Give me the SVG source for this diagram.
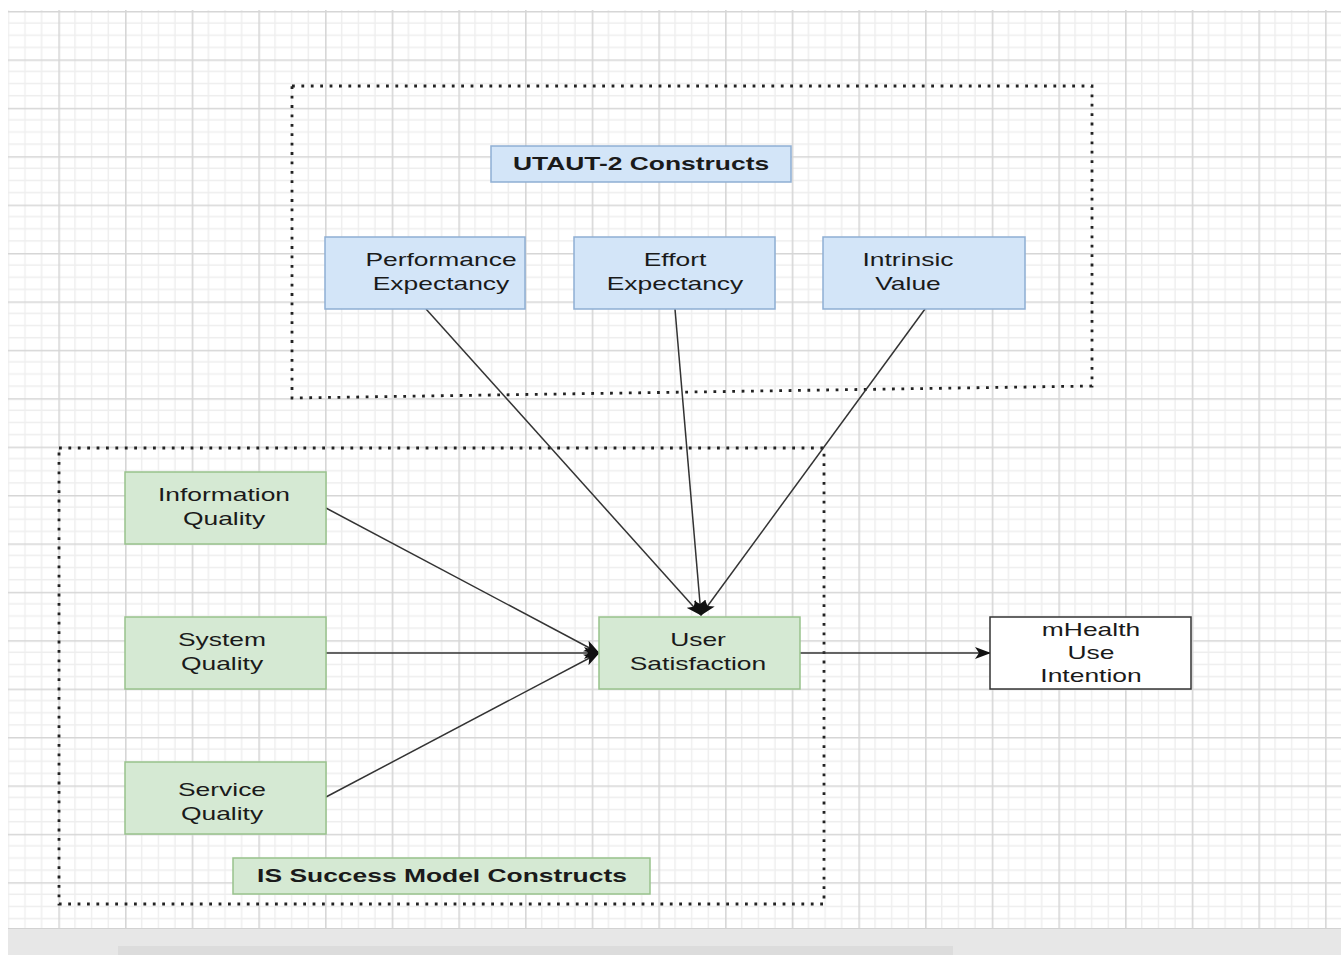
<svg xmlns="http://www.w3.org/2000/svg" width="1341" height="955" viewBox="0 0 1341 955">
  <style>
    .t { font-family: "Liberation Sans", Arial, sans-serif; font-size: 19px; fill: #1a1a1a; text-anchor: middle; }
    .b { font-weight: bold; }
    .blue { fill: #d3e5f8; stroke: #8eaed3; stroke-width: 1.5; }
    .green { fill: #d5e9d3; stroke: #98c28c; stroke-width: 1.5; }
    .white { fill: #ffffff; stroke: #333333; stroke-width: 1.5; }
    .cont { fill: none; stroke: #222222; stroke-width: 2.8; stroke-dasharray: 2.8 6.6; }
    .edge { fill: none; stroke: #333333; stroke-width: 1.5; marker-end: url(#arr); }
  </style>
  <defs>
    <pattern id="grid" patternUnits="userSpaceOnUse" x="-8.33" y="11" width="66.67" height="48.4">
      <g stroke="#eeeeee" stroke-width="1.4">
        <line x1="16.67" y1="0" x2="16.67" y2="48.4"/>
        <line x1="33.33" y1="0" x2="33.33" y2="48.4"/>
        <line x1="50" y1="0" x2="50" y2="48.4"/>
        <line x1="0" y1="12.1" x2="66.67" y2="12.1"/>
        <line x1="0" y1="24.2" x2="66.67" y2="24.2"/>
        <line x1="0" y1="36.3" x2="66.67" y2="36.3"/>
      </g>
      <g stroke="#d6d6d6" stroke-width="1.6">
        <line x1="0.8" y1="0" x2="0.8" y2="48.4"/>
        <line x1="0" y1="0.8" x2="66.67" y2="0.8"/>
      </g>
    </pattern>
    <marker id="arr" markerUnits="userSpaceOnUse" viewBox="0 0 16 12" refX="15" refY="6" markerWidth="16" markerHeight="12" orient="auto">
      <path d="M0,0 L16,6 L0,12 L4,6 Z" fill="#111111"/>
    </marker>
  </defs>

  <rect x="0" y="0" width="1341" height="955" fill="#ffffff"/>
  <rect x="8" y="10" width="1333" height="918" fill="url(#grid)"/>
  <rect x="8" y="928" width="1333" height="27" fill="#e7e7e7"/>
  <line x1="8" y1="928.5" x2="1341" y2="928.5" stroke="#d2d2d2" stroke-width="1"/>
  <rect x="118" y="946" width="835" height="9" fill="#dcdcdc"/>

  <g id="utaut-container">
    <path class="cont" d="M292,86 L1092,86 L1092,386 L292,398 Z"/>
  </g>
  <g id="is-container">
    <path class="cont" d="M59,448 L824,448 L824,904 L59,904 Z"/>
  </g>

  <g id="connectors">
    <line class="edge" x1="426" y1="309" x2="701" y2="615"/>
    <line class="edge" x1="675" y1="309" x2="701" y2="615"/>
    <line class="edge" x1="925" y1="309" x2="701" y2="615"/>
    <line class="edge" x1="326" y1="508" x2="599" y2="653"/>
    <line class="edge" x1="326" y1="653" x2="599" y2="653"/>
    <line class="edge" x1="326" y1="797" x2="599" y2="653"/>
    <line class="edge" x1="800" y1="653" x2="990" y2="653"/>
  </g>

  <g id="utaut-label">
    <rect class="blue" x="491" y="146" width="300" height="36"/>
    <text class="t b" font-size="18.5" transform="translate(641,0) scale(1.39,1)" y="170">UTAUT-2 Constructs</text>
  </g>
  <g id="performance-expectancy">
    <rect class="blue" x="325" y="237" width="200" height="72"/>
    <text class="t" transform="translate(441,0) scale(1.39,1)"><tspan x="0" y="266.5">Performance</tspan><tspan x="0" y="290.5">Expectancy</tspan></text>
  </g>
  <g id="effort-expectancy">
    <rect class="blue" x="574" y="237" width="201" height="72"/>
    <text class="t" transform="translate(675,0) scale(1.39,1)"><tspan x="0" y="266.5">Effort</tspan><tspan x="0" y="290.5">Expectancy</tspan></text>
  </g>
  <g id="intrinsic-value">
    <rect class="blue" x="823" y="237" width="202" height="72"/>
    <text class="t" transform="translate(908,0) scale(1.39,1)"><tspan x="0" y="266">Intrinsic</tspan><tspan x="0" y="290.5">Value</tspan></text>
  </g>
  <g id="information-quality">
    <rect class="green" x="125" y="472" width="201" height="72"/>
    <text class="t" transform="translate(224,0) scale(1.39,1)"><tspan x="0" y="501.5">Information</tspan><tspan x="0" y="525.5">Quality</tspan></text>
  </g>
  <g id="system-quality">
    <rect class="green" x="125" y="617" width="201" height="72"/>
    <text class="t" transform="translate(222,0) scale(1.39,1)"><tspan x="0" y="646">System</tspan><tspan x="0" y="670">Quality</tspan></text>
  </g>
  <g id="service-quality">
    <rect class="green" x="125" y="762" width="201" height="72"/>
    <text class="t" transform="translate(222,0) scale(1.39,1)"><tspan x="0" y="796">Service</tspan><tspan x="0" y="820">Quality</tspan></text>
  </g>
  <g id="user-satisfaction">
    <rect class="green" x="599" y="617" width="201" height="72"/>
    <text class="t" transform="translate(698,0) scale(1.39,1)"><tspan x="0" y="646">User</tspan><tspan x="0" y="670">Satisfaction</tspan></text>
  </g>
  <g id="mhealth-use-intention">
    <rect class="white" x="990" y="617" width="201" height="72"/>
    <text class="t" transform="translate(1091,0) scale(1.39,1)"><tspan x="0" y="636">mHealth</tspan><tspan x="0" y="659">Use</tspan><tspan x="0" y="682">Intention</tspan></text>
  </g>
  <g id="is-label">
    <rect class="green" x="233" y="858" width="417" height="36"/>
    <text class="t b" transform="translate(442,0) scale(1.39,1)" y="882">IS Success Model Constructs</text>
  </g>
</svg>
